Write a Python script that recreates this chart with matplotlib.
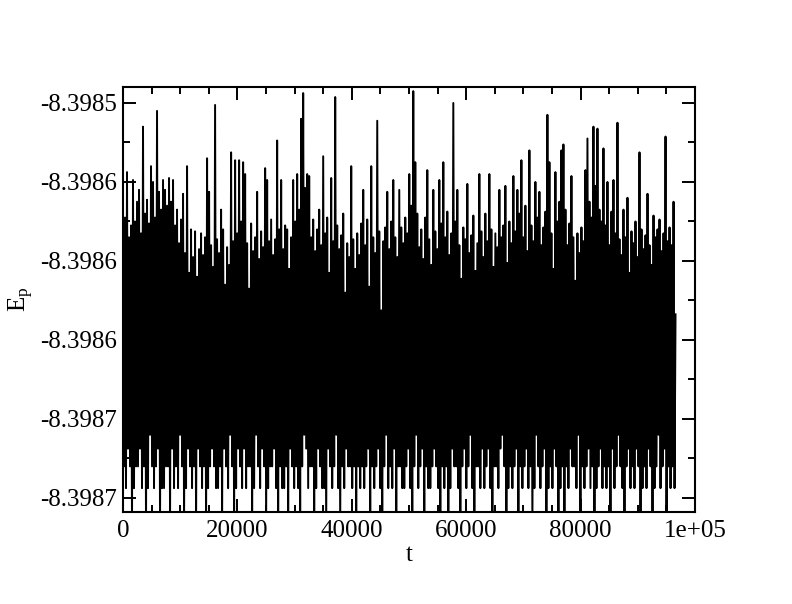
import numpy as np
import matplotlib
matplotlib.use("Agg")
import matplotlib.pyplot as plt
from matplotlib.ticker import AutoMinorLocator, FormatStrFormatter

plt.rcParams["font.family"] = ["Liberation Serif", "DejaVu Serif"]
plt.rcParams["mathtext.fontset"] = "custom"
plt.rcParams["mathtext.rm"] = "Liberation Serif"
plt.rcParams["mathtext.it"] = "Liberation Serif:italic"

# E_p samples, offsets from E0 in units of 1e-6
E0 = -8.3986
dt = 175.0  # time between stored samples

# local maxima of the signal (one per sample pair)
ep_hi = [
    10, 22, 45, 12, 18, 41, 20, 30, 36, 14, 68, 24, 31, 19, 48, 40, 22, 76, 35, 26,
    41, 36, 28, 42, 30, 41, 18, 26, 9, 21, 34, 4, 48, -6, 16, 2, 15, -8, 6, 14,
    3, 12, 52, 35, 8, -3, 79, 11, 4, 26, 16, -12, 7, -2, 55, 10, 51, 14, 51, 20,
    50, 44, 9, -14, 19, 5, 12, 35, 1, 15, 7, 47, 41, 10, 21, 3, 11, 61, 16, 41,
    6, 18, 16, -4, 12, 41, 20, 44, 26, 72, 85, 37, 44, 43, 12, 21, 5, 16, 26, 8,
    53, 14, 22, -6, 42, 10, 83, 18, 6, 13, 24, -16, 9, 2, 48, 11, -4, 14, 3, 19,
    36, 8, 21, -13, 48, 12, 4, 71, 15, -25, 10, 17, 35, 6, 20, 41, 12, 2, 36, 17,
    9, 22, 14, 44, 28, 86, 50, 24, 7, 16, 1, 22, 46, 11, -2, 36, 15, 6, 41, 19,
    50, 12, 25, 3, 14, 80, 20, 36, 8, -9, 17, 11, 39, 4, 13, 23, -5, 9, 44, 15,
    2, 24, 10, 44, 16, -3, 14, 7, 36, 12, 18, 38, -1, 20, 9, 43, 15, 36, 24, 51,
    12, 28, 5, 56, 18, 10, 40, 22, 35, 8, 17, 25, 74, 50, 14, -4, 45, 20, 30, 56,
    59, 26, 8, 19, 43, 12, -10, 14, 4, 17, 10, 46, 62, 30, 22, 68, 38, 67, 26, 20,
    57, 18, 40, 8, 25, 41, 14, 70, 11, 3, 26, 12, 32, -6, 15, 9, 20, 2, 55, 16,
    6, 13, 34, 8, -2, 23, 12, 16, 21, 5, 14, 63, 10, 17, 8, 30,
]

# local minima following each maximum
ep_lo = [
    -104, -115, -95, -104, -135, -115, -104, -104, -95, -115, -104, -135, -115, -88, -104, -115, -104, -95, -135, -115,
    -115, -104, -104, -135, -95, -115, -104, -115, -88, -104, -135, -115, -95, -104, -115, -104, -135, -95, -104, -115,
    -104, -135, -115, -104, -95, -104, -115, -115, -104, -135, -95, -104, -115, -88, -104, -135, -115, -95, -104, -115,
    -95, -115, -104, -104, -135, -115, -88, -104, -115, -95, -104, -135, -115, -104, -104, -95, -115, -135, -104, -115,
    -115, -104, -135, -95, -104, -115, -104, -115, -135, -104, -88, -95, -115, -104, -104, -135, -115, -95, -104, -115,
    -115, -135, -95, -104, -115, -104, -88, -115, -135, -104, -115, -95, -104, -104, -115, -104, -135, -104, -115, -104,
    -115, -104, -95, -135, -104, -115, -104, -95, -115, -135, -104, -88, -115, -104, -115, -95, -135, -104, -104, -115,
    -115, -104, -95, -115, -135, -104, -88, -115, -104, -95, -135, -104, -115, -115, -104, -95, -104, -115, -135, -104,
    -115, -104, -135, -115, -95, -104, -104, -115, -135, -104, -95, -115, -104, -88, -115, -135, -104, -104, -115, -95,
    -115, -104, -95, -115, -135, -104, -104, -115, -95, -88, -104, -135, -115, -104, -115, -104, -95, -135, -104, -115,
    -104, -95, -115, -104, -135, -115, -88, -104, -115, -104, -95, -135, -115, -104, -115, -95, -104, -135, -115, -104,
    -135, -104, -115, -95, -104, -104, -115, -88, -135, -104, -115, -104, -95, -115, -104, -135, -115, -104, -95, -115,
    -104, -115, -104, -135, -95, -115, -104, -88, -104, -115, -135, -104, -95, -115, -104, -115, -95, -104, -135, -115,
    -104, -115, -95, -104, -135, -115, -104, -88, -115, -104, -95, -135, -104, -115, -104, -115,
]
ep_end = -27

xticks = [0, 20000, 40000, 60000, 80000, 100000]
xtick_labels = ["0", "20000", "40000", "60000", "80000", "1e+05"]
yticks = [-8.39872, -8.39868, -8.39864, -8.39860, -8.39856, -8.39852]


def main():
    n = len(ep_hi)
    d = np.empty(2 * n + 1)
    d[0:2 * n:2] = ep_hi
    d[1:2 * n:2] = ep_lo
    d[-1] = ep_end
    ep = E0 + d * 1e-6
    t = np.arange(len(ep)) * dt

    fig = plt.figure(figsize=(7.92, 6.04), dpi=100)
    ax = fig.add_axes([0.1553, 0.1523, 0.7222, 0.7037])
    ax.plot(t, ep, color="black", linewidth=1.4)

    ax.set_xlim(0, 100000)
    ax.set_ylim(-8.3987271, -8.3985119)
    ax.set_xticks(xticks)
    ax.set_xticklabels(xtick_labels)
    ax.set_yticks(yticks)
    ax.yaxis.set_major_formatter(FormatStrFormatter("%.4f"))
    ax.xaxis.set_minor_locator(AutoMinorLocator(4))
    ax.yaxis.set_minor_locator(AutoMinorLocator(2))

    ax.tick_params(which="both", direction="in", top=True, right=True,
                   width=1.4, labelsize=18)
    ax.tick_params(which="major", length=9.5)
    ax.tick_params(which="minor", length=5)
    ax.tick_params(axis="y", pad=4)
    ax.tick_params(axis="x", pad=6)
    for s in ax.spines.values():
        s.set_linewidth(1.5)

    ax.set_xlabel("t", fontsize=18, labelpad=1)
    ax.set_ylabel(r"E$_\mathrm{p}$", fontsize=18, labelpad=3)

    fig.savefig("out.png", dpi=100)


if __name__ == "__main__":
    main()
